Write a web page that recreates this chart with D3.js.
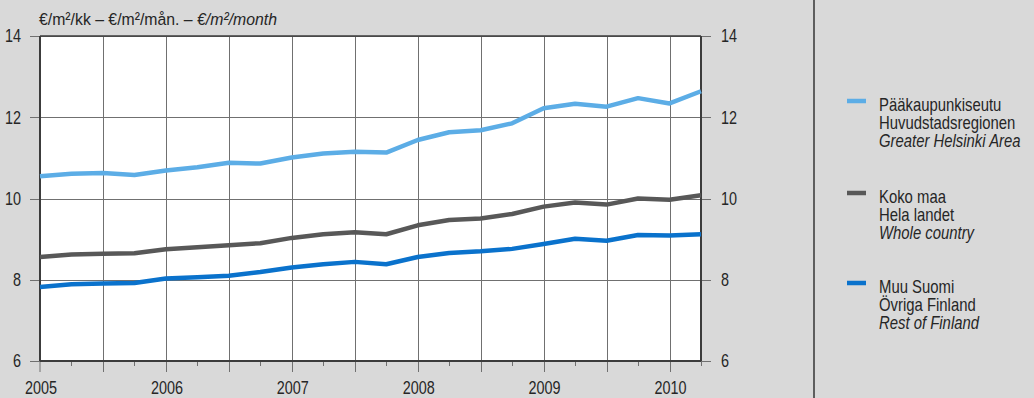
<!DOCTYPE html>
<html><head><meta charset="utf-8">
<script src="https://cdn.jsdelivr.net/npm/d3@7"></script>
<style>
html,body{margin:0;padding:0;background:#d9d9d9;}
svg{display:block;}
text{font-family:"Liberation Sans Narrow","Arial Narrow","Liberation Sans",Arial,sans-serif;fill:#262626;}
</style></head>
<body>
<svg id="chart" width="1034" height="398"></svg>
<script>
// ---- data ----
const periods = [2005.00, 2005.25, 2005.50, 2005.75, 2006.00, 2006.25, 2006.50, 2006.75,
                 2007.00, 2007.25, 2007.50, 2007.75, 2008.00, 2008.25, 2008.50, 2008.75,
                 2009.00, 2009.25, 2009.50, 2009.75, 2010.00, 2010.25];
const helsinki = [10.55, 10.61, 10.63, 10.58, 10.69, 10.77, 10.88, 10.86, 11.01, 11.11, 11.15, 11.13,
                  11.44, 11.63, 11.68, 11.85, 12.22, 12.33, 12.26, 12.47, 12.34, 12.64];
const wholeCountry = [8.56, 8.62, 8.64, 8.65, 8.75, 8.80, 8.85, 8.90, 9.03, 9.12, 9.17, 9.12,
                      9.34, 9.47, 9.51, 9.62, 9.80, 9.90, 9.85, 10.00, 9.97, 10.08];
const restOfFinland = [7.82, 7.89, 7.91, 7.92, 8.03, 8.06, 8.10, 8.19, 8.30, 8.38, 8.44, 8.38,
                       8.56, 8.66, 8.70, 8.76, 8.88, 9.01, 8.96, 9.10, 9.09, 9.12];
const yTicks = [6, 8, 10, 12, 14];
const yearLabels = [2005, 2006, 2007, 2008, 2009, 2010];
const halfYearTicks = [2005.5, 2006, 2006.5, 2007, 2007.5, 2008, 2008.5, 2009, 2009.5, 2010];
const quarterTicks = [2005.25, 2005.75, 2006.25, 2006.75, 2007.25, 2007.75, 2008.25, 2008.75, 2009.25, 2009.75, 2010.25];
const seriesNames = [
  ["Pääkaupunkiseutu", "Huvudstadsregionen", "Greater Helsinki Area"],
  ["Koko maa", "Hela landet", "Whole country"],
  ["Muu Suomi", "Övriga Finland", "Rest of Finland"]
];
const seriesColors = ["#5cade6", "#585858", "#0a72cc"];
const seriesData = [helsinki, wholeCountry, restOfFinland];

// ---- drawing ----
const svg = d3.select("#chart");
const W = 1034, H = 398;
const SX = 0.8; // horizontal condensing of the sans font
const x = d3.scaleLinear().domain([2005, 2010.25]).range([40, 701]);
const y = d3.scaleLinear().domain([6, 14]).range([361, 36]);

svg.append("rect").attr("width", W).attr("height", H).attr("fill", "#d9d9d9");
svg.append("rect").attr("x", x(2005)).attr("y", y(14))
   .attr("width", x(2010.25) - x(2005)).attr("height", y(6) - y(14)).attr("fill", "#ffffff");

const grid = svg.append("g").attr("stroke", "#707070").attr("stroke-width", 1).attr("fill", "none");
grid.selectAll("line.h").data(yTicks).join("line")
  .attr("x1", 30).attr("x2", 711)
  .attr("y1", d => Math.round(y(d)) + 0.5).attr("y2", d => Math.round(y(d)) + 0.5);
grid.selectAll("line.v").data(halfYearTicks).join("line")
  .attr("x1", d => Math.round(x(d)) + 0.5).attr("x2", d => Math.round(x(d)) + 0.5)
  .attr("y1", y(14)).attr("y2", 372);
grid.append("line").attr("x1", x(2005)).attr("x2", x(2005)).attr("y1", y(6)).attr("y2", 372);
grid.selectAll("line.q").data(quarterTicks).join("line")
  .attr("x1", d => Math.round(x(d)) + 0.5).attr("x2", d => Math.round(x(d)) + 0.5)
  .attr("y1", y(6)).attr("y2", 366);

// frame
const frame = svg.append("g").attr("stroke", "#3c3c3c").attr("fill", "none");
frame.append("line").attr("x1", x(2005)).attr("x2", x(2005)).attr("y1", y(14)).attr("y2", y(6)).attr("stroke-width", 2);
frame.append("line").attr("x1", x(2010.25)).attr("x2", x(2010.25)).attr("y1", y(14)).attr("y2", y(6)).attr("stroke-width", 2);
frame.append("line").attr("x1", x(2005)).attr("x2", x(2010.25)).attr("y1", y(6)).attr("y2", y(6)).attr("stroke-width", 2);
frame.append("line").attr("x1", x(2005)).attr("x2", x(2010.25)).attr("y1", y(14)).attr("y2", y(14)).attr("stroke-width", 1.5);

// lines
const line = d3.line().x((d, i) => x(periods[i])).y(d => y(d));
seriesData.forEach((s, k) => {
  svg.append("path").datum(s).attr("d", line)
    .attr("fill", "none").attr("stroke", seriesColors[k]).attr("stroke-width", 4.5)
    .attr("stroke-linejoin", "round").attr("stroke-linecap", "butt");
});

// helper for condensed text
function ctext(parent, px, py, size, anchor, sx) {
  return parent.append("text")
    .attr("transform", `translate(${px},${py}) scale(${sx || SX},1)`)
    .attr("font-size", size).attr("text-anchor", anchor || "start");
}

// axis labels
yTicks.forEach(v => {
  ctext(svg, 21, y(v), 18, "end").attr("dy", "0.36em").text(v);
  ctext(svg, 721, y(v), 18, "start").attr("dy", "0.36em").text(v);
});
yearLabels.forEach(v => {
  ctext(svg, x(v) + 1, 394, 18, "middle").text(v);
});

// title
const t = ctext(svg, 39, 25, 17, "start", 0.93);
t.append("tspan").text("€/m²/kk – €/m²/mån. – ");
t.append("tspan").attr("font-style", "italic").text("€/m²/month");

// divider
svg.append("line").attr("x1", 814).attr("x2", 814).attr("y1", 0).attr("y2", H)
  .attr("stroke", "#5e5e5e").attr("stroke-width", 2);

// legend
const legendY = [101, 193, 283];
seriesNames.forEach((names, k) => {
  const g = svg.append("g");
  g.append("line").attr("x1", 847).attr("x2", 866)
    .attr("y1", legendY[k]).attr("y2", legendY[k])
    .attr("stroke", seriesColors[k]).attr("stroke-width", 4.5);
  names.forEach((n, j) => {
    ctext(g, 879, legendY[k] + 10 + j * 18, 17.5, "start", 0.85)
      .attr("font-style", j === 2 ? "italic" : "normal").text(n);
  });
});
</script>
</body></html>
